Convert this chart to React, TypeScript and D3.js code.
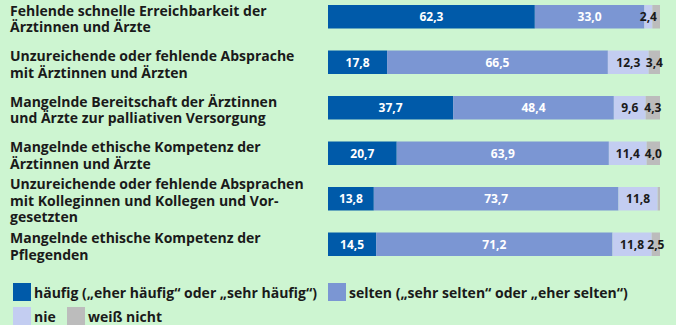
import React from "react";
import * as d3 from "d3";

const W = 676;
const H = 325;

const categories: string[][] = [
  ["Fehlende schnelle Erreichbarkeit der", "Ärztinnen und Ärzte"],
  ["Unzureichende oder fehlende Absprache", "mit Ärztinnen und Ärzten"],
  ["Mangelnde Bereitschaft der Ärztinnen", "und Ärzte zur palliativen Versorgung"],
  ["Mangelnde ethische Kompetenz der", "Ärztinnen und Ärzte"],
  ["Unzureichende oder fehlende Absprachen", "mit Kolleginnen und Kollegen und Vor-", "gesetzten"],
  ["Mangelnde ethische Kompetenz der", "Pflegenden"],
];

const haeufig = [62.3, 17.8, 37.7, 20.7, 13.8, 14.5];
const selten = [33.0, 66.5, 48.4, 63.9, 73.7, 71.2];
const nie = [2.4, 12.3, 9.6, 11.4, 11.8, 11.8];
const weissNicht = [2.3, 3.4, 4.3, 4.0, 0.7, 2.5];
// which values are printed (unlabelled slivers in the source)
const showWeissNicht = [false, true, true, true, false, true];

const seriesNames = [
  "häufig („eher häufig“ oder „sehr häufig“)",
  "selten („sehr selten“ oder „eher selten“)",
  "nie",
  "weiß nicht",
];
const seriesColors = ["#005aa9", "#7b96d3", "#c3cdf1", "#bcbcbc"];
const labelColors = ["#ffffff", "#ffffff", "#1a1a1a", "#1a1a1a"];

const FONT = "'Open Sans', 'Noto Sans', sans-serif";

export default function App() {
  const ids = categories.map((_, i) => String(i));
  const y = d3
    .scaleBand<string>()
    .domain(ids)
    .range([5, 5 + 6 * 45.5 - 22])
    .paddingInner(22 / 45.5)
    .paddingOuter(0);
  const x = d3.scaleLinear().domain([0, 100]).range([328, 660]);

  const series = [haeufig, selten, nie, weissNicht];
  const rows = ids.map((id, i) => {
    let acc = 0;
    return series.map((s, k) => {
      const v = s[i];
      const seg = { k, v, x0: acc, x1: acc + v };
      acc += v;
      return seg;
    });
  });

  const lineH = 16.5;
  const fmt = (v: number) => v.toFixed(1).replace(".", ",");

  return (
    <svg
      width={W}
      height={H}
      style={{ position: "absolute", left: 0, top: 0, display: "block" }}
    >
      <rect x={0} y={0} width={W} height={H} fill="#cdf5d1" />
      {ids.map((id, i) => {
        const top = y(id)!;
        const bw = y.bandwidth();
        const c = top + bw / 2;
        const lines = categories[i];
        const firstBase = c - ((lines.length - 1) * lineH) / 2 + 7;
        return (
          <g key={id}>
            <text
              fontFamily={FONT}
              fontWeight={700}
              fontSize={14}
              fill="#1a1a1a"
            >
              {lines.map((ln, j) => (
                <tspan key={j} x={10} y={firstBase + j * lineH}>
                  {ln}
                </tspan>
              ))}
            </text>
            {rows[i].map((seg) => (
              <rect
                key={seg.k}
                x={x(seg.x0)}
                y={top}
                width={x(seg.x1) - x(seg.x0)}
                height={bw}
                fill={seriesColors[seg.k]}
              />
            ))}
            {rows[i].map((seg) => {
              if (seg.k === 3 && !showWeissNicht[i]) return null;
              return (
                <text
                  key={"l" + seg.k}
                  x={(x(seg.x0) + x(seg.x1)) / 2}
                  y={c + 4.3}
                  textAnchor="middle"
                  fontFamily={FONT}
                  fontWeight={700}
                  fontSize={12}
                  fill={labelColors[seg.k]}
                >
                  {fmt(seg.v)}
                </text>
              );
            })}
          </g>
        );
      })}
      {/* legend */}
      {[
        { k: 0, x: 13, y: 283 },
        { k: 1, x: 328, y: 283 },
        { k: 2, x: 13, y: 307 },
        { k: 3, x: 67, y: 307 },
      ].map((it) => (
        <g key={it.k}>
          <rect x={it.x} y={it.y} width={18} height={18} fill={seriesColors[it.k]} />
          <text
            x={it.x + 21}
            y={it.y + 15}
            fontFamily={FONT}
            fontWeight={700}
            fontSize={14}
            fill="#1a1a1a"
          >
            {seriesNames[it.k]}
          </text>
        </g>
      ))}
    </svg>
  );
}
